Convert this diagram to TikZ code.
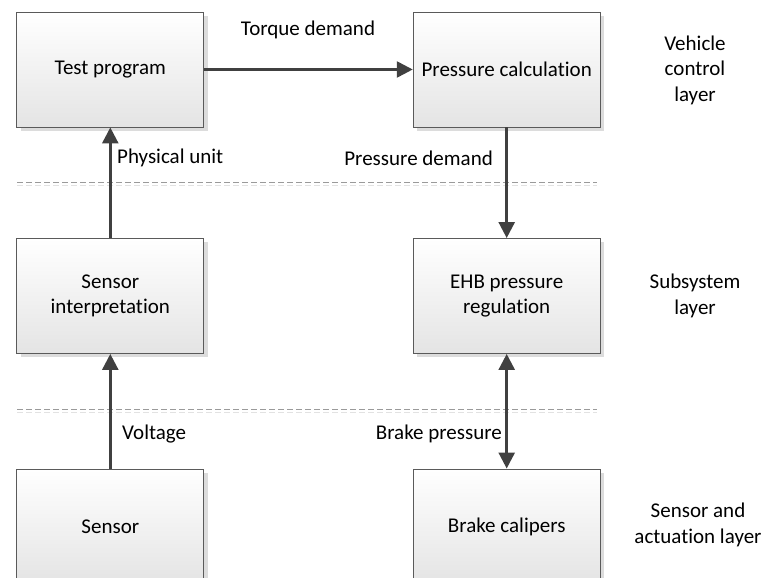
\documentclass[tikz,border=0pt]{standalone}
\usepackage{fontspec}
\setmainfont{Carlito}[Ligatures=NoCommon]
\usetikzlibrary{arrows.meta,positioning}
\definecolor{boxline}{HTML}{5A5A5A}
\definecolor{boxbottom}{HTML}{E4E4E4}
\definecolor{shadowgray}{HTML}{DCDCDC}
\definecolor{arrowgray}{HTML}{404040}
\definecolor{layerline}{HTML}{9A9A9A}
\definecolor{layershadow}{HTML}{E2E2E2}
\tikzset{
  x=1pt, y=1pt,
  every node/.style={font=\fontsize{21}{25.5}\selectfont, text=black},
  block/.style={draw=boxline, line width=0.9pt, top color=white, bottom color=boxbottom,
    minimum width=187pt, minimum height=115pt, inner sep=0pt, align=center},
  blockshadow/.style={fill=shadowgray, draw=none, minimum width=187pt, minimum height=115pt},
  flow/.style={draw=arrowgray, line width=2.6pt, -{Triangle[length=16pt,width=16pt]}},
  bothflow/.style={draw=arrowgray, line width=2.6pt,
    {Triangle[length=16pt,width=16pt]}-{Triangle[length=16pt,width=16pt]}},
  layersep/.style={draw=layerline, line width=1pt, dash pattern=on 6pt off 3pt},
  layersepshadow/.style={draw=layershadow, line width=1pt, dash pattern=on 6pt off 3pt},
  lbl/.style={inner sep=0pt, align=left},
  layerlbl/.style={inner sep=0pt, align=center}
}
\begin{document}
\begin{tikzpicture}
\useasboundingbox (0,0) rectangle (761,578);
\clip (0,0) rectangle (761,578);

% layer separators
\draw[layersepshadow] (17,392) -- (597,392);
\draw[layersep] (17,395) -- (597,395);
\draw[layersepshadow] (17,165) -- (597,165);
\draw[layersep] (17,168) -- (597,168);

% drop shadows behind the blocks
\foreach \px/\py in {110.3/508.5, 506.7/508.5, 110.3/282, 506.7/282, 110.3/51.5, 506.7/51.5}
  \node[blockshadow] at (\px+4,\py-4) {};

% blocks
\node[block] (test)  at (110.3,508.5) {Test program};
\node[block] (pcalc) at (506.7,508.5) {Pressure calculation};
\node[block] (sint)  at (110.3,282)   {Sensor\\interpretation};
\node[block] (ehb)   at (506.7,282)   {EHB pressure\\regulation};
\node[block] (sens)  at (110.3,51.5)  {Sensor};
\node[block] (brake) at (506.7,51.5)  {Brake calipers};

% signal flow
\draw[flow] (test.east) -- (pcalc.west);
\draw[flow] (pcalc.south) -- (ehb.north);
\draw[bothflow] (ehb.south) -- (brake.north);
\draw[flow] (sens.north) -- (sint.south);
\draw[flow] (sint.north) -- (test.south);

% connector labels
\node[lbl] (ltorque) at (308,548) {Torque demand};
\node[lbl, anchor=west] (lphys) at (117,420) {Physical unit};
\node[lbl, anchor=east] (lpdem) at (493,420) {Pressure demand};
\node[lbl, anchor=west] (lvolt) at (122,144) {Voltage};
\node[lbl, anchor=east] (lbrake) at (502,144) {Brake pressure};

% layer names
\node[layerlbl] (lvehicle) at (695,508) {Vehicle\\control\\layer};
\node[layerlbl] (lsub) at (695,282) {Subsystem\\layer};
\node[layerlbl] (lsensor) at (698,53) {Sensor and\\actuation layer};
\end{tikzpicture}
\end{document}
